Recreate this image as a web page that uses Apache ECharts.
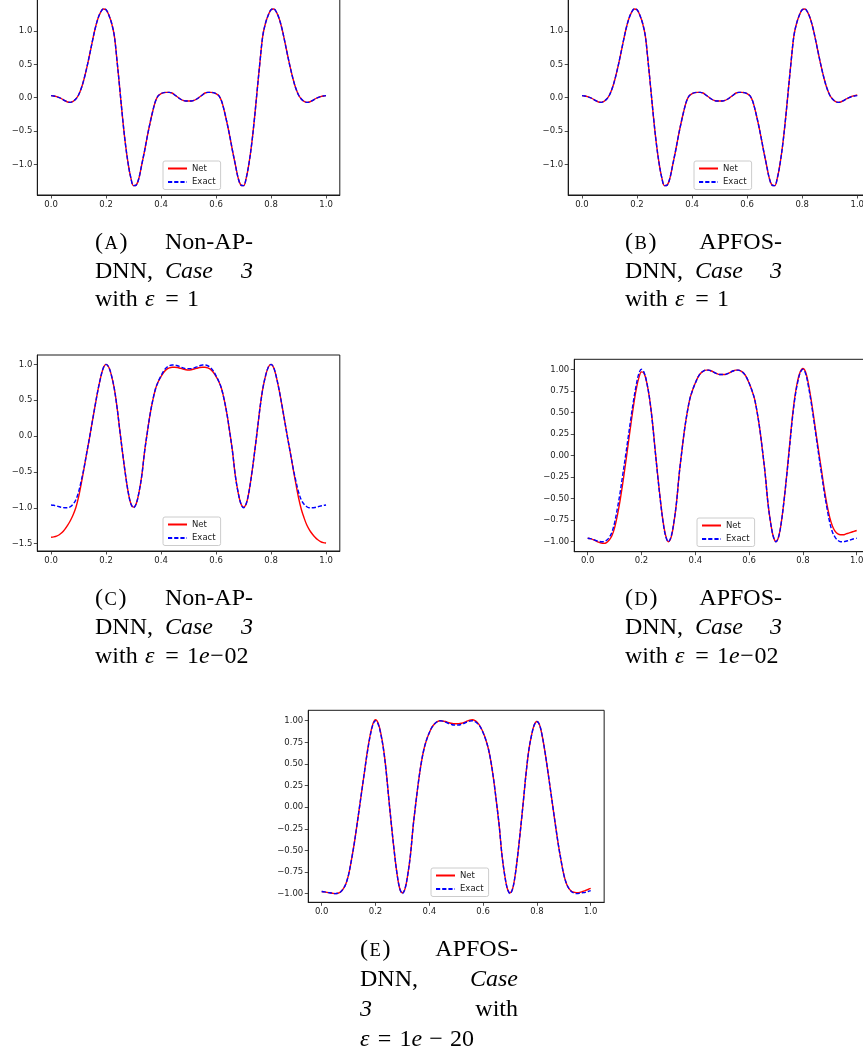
<!DOCTYPE html>
<html><head><meta charset="utf-8">
<script src="https://cdn.jsdelivr.net/npm/echarts@6/dist/echarts.min.js"></script>
<style>html,body{margin:0;padding:0;background:#fff}#c{width:863px;height:1053px}</style>
</head><body><div id="c"></div>
<script>
const xs = [0,0.01,0.02,0.03,0.04,0.05,0.06,0.07,0.08,0.09,
 0.10,0.11,0.12,0.13,0.14,0.15,0.16,0.17,0.18,0.19,
 0.20,0.21,0.22,0.23,0.24,0.25,0.26,0.27,0.28,0.29,
 0.30,0.31,0.32,0.33,0.34,0.35,0.36,0.37,0.38,0.39,
 0.40,0.41,0.42,0.43,0.44,0.45,0.46,0.47,0.48,0.49,
 0.50,
 0.51,0.52,0.53,0.54,0.55,0.56,0.57,0.58,0.59,0.60,
 0.61,0.62,0.63,0.64,0.65,0.66,0.67,0.68,0.69,0.70,
 0.71,0.72,0.73,0.74,0.75,0.76,0.77,0.78,0.79,0.80,
 0.81,0.82,0.83,0.84,0.85,0.86,0.87,0.88,0.89,0.90,
 0.91,0.92,0.93,0.94,0.95,0.96,0.97,0.98,0.99,1.00];

// epsilon = 1 (panels A, B)
const exactEps1 = [0.03,0.025,0.015,0.0,-0.02,-0.045,-0.065,-0.07,-0.055,-0.02,
 0.04,0.14,0.28,0.45,0.64,0.84,1.03,1.18,1.28,1.33,
 1.32,1.24,1.12,0.93,0.55,0.13,-0.30,-0.68,-0.98,-1.20,
 -1.32,-1.31,-1.20,-1.00,-0.80,-0.58,-0.38,-0.20,-0.05,0.03,
 0.06,0.075,0.08,0.08,0.07,0.04,0.01,-0.02,-0.04,-0.05,
 -0.05,
 -0.05,-0.04,-0.02,0.01,0.04,0.07,0.08,0.08,0.075,0.06,
 0.03,-0.05,-0.20,-0.38,-0.58,-0.80,-1.00,-1.20,-1.31,-1.32,
 -1.20,-0.98,-0.68,-0.30,0.13,0.55,0.93,1.12,1.24,1.32,
 1.33,1.28,1.18,1.03,0.84,0.64,0.45,0.28,0.14,0.04,
 -0.02,-0.055,-0.07,-0.065,-0.045,-0.02,0.0,0.015,0.025,0.03];
const netA = [0.03,0.025,0.015,0.0,-0.02,-0.045,-0.065,-0.07,-0.055,-0.02,
 0.04,0.14,0.28,0.45,0.64,0.84,1.03,1.18,1.28,1.33,
 1.32,1.24,1.12,0.93,0.55,0.13,-0.30,-0.68,-0.98,-1.20,
 -1.32,-1.31,-1.20,-1.00,-0.80,-0.58,-0.38,-0.20,-0.05,0.03,
 0.06,0.075,0.08,0.08,0.07,0.04,0.01,-0.02,-0.04,-0.05,
 -0.05,
 -0.05,-0.04,-0.02,0.01,0.04,0.07,0.08,0.08,0.075,0.06,
 0.03,-0.05,-0.20,-0.38,-0.58,-0.80,-1.00,-1.20,-1.31,-1.32,
 -1.20,-0.98,-0.68,-0.30,0.13,0.55,0.93,1.12,1.24,1.32,
 1.33,1.28,1.18,1.03,0.84,0.64,0.45,0.28,0.14,0.04,
 -0.02,-0.055,-0.07,-0.065,-0.045,-0.02,0.0,0.015,0.025,0.03];
const netB = [0.03,0.025,0.015,0.0,-0.02,-0.045,-0.065,-0.07,-0.055,-0.02,
 0.04,0.14,0.28,0.45,0.64,0.84,1.03,1.18,1.28,1.33,
 1.32,1.24,1.12,0.93,0.55,0.13,-0.30,-0.68,-0.98,-1.20,
 -1.32,-1.31,-1.20,-1.00,-0.80,-0.58,-0.38,-0.20,-0.05,0.03,
 0.06,0.075,0.08,0.08,0.07,0.04,0.01,-0.02,-0.04,-0.05,
 -0.05,
 -0.05,-0.04,-0.02,0.01,0.04,0.07,0.08,0.08,0.075,0.06,
 0.03,-0.05,-0.20,-0.38,-0.58,-0.80,-1.00,-1.20,-1.31,-1.32,
 -1.20,-0.98,-0.68,-0.30,0.13,0.55,0.93,1.12,1.24,1.32,
 1.33,1.28,1.18,1.03,0.84,0.64,0.45,0.28,0.14,0.04,
 -0.02,-0.055,-0.07,-0.065,-0.045,-0.02,0.0,0.02,0.03,0.04];

// epsilon = 1e-02 (panels C, D)
const exactEps2 = [-0.96,-0.965,-0.975,-0.985,-0.995,-1.0,-1.0,-0.985,-0.95,-0.89,
 -0.78,-0.62,-0.44,-0.23,-0.02,0.20,0.42,0.63,0.81,0.95,
 1.0,0.96,0.84,0.66,0.40,0.08,-0.23,-0.52,-0.77,-0.94,
 -1.0,-0.94,-0.78,-0.55,-0.22,0.05,0.30,0.50,0.66,0.76,
 0.84,0.91,0.955,0.98,0.99,0.99,0.98,0.965,0.95,0.94,
 0.94,
 0.94,0.95,0.965,0.98,0.99,0.99,0.98,0.955,0.91,0.84,
 0.76,0.66,0.50,0.30,0.05,-0.22,-0.55,-0.78,-0.94,-1.0,
 -0.94,-0.77,-0.52,-0.23,0.08,0.40,0.66,0.84,0.96,1.0,
 0.95,0.81,0.63,0.42,0.20,-0.02,-0.23,-0.44,-0.62,-0.78,
 -0.89,-0.95,-0.985,-1.0,-1.0,-0.995,-0.985,-0.975,-0.965,-0.96];
const netC = [-1.41,-1.405,-1.395,-1.375,-1.345,-1.30,-1.245,-1.18,-1.10,-1.00,
 -0.85,-0.66,-0.45,-0.23,-0.02,0.20,0.42,0.63,0.81,0.95,
 1.0,0.96,0.84,0.66,0.40,0.08,-0.23,-0.52,-0.77,-0.94,
 -0.99,-0.94,-0.78,-0.55,-0.22,0.05,0.30,0.50,0.66,0.76,
 0.83,0.89,0.93,0.95,0.96,0.96,0.955,0.945,0.935,0.925,
 0.92,
 0.925,0.935,0.945,0.955,0.96,0.96,0.95,0.93,0.89,0.83,
 0.76,0.66,0.50,0.30,0.05,-0.22,-0.55,-0.78,-0.94,-0.99,
 -0.94,-0.77,-0.52,-0.23,0.08,0.40,0.66,0.84,0.96,1.0,
 0.95,0.81,0.63,0.42,0.20,-0.02,-0.23,-0.45,-0.66,-0.86,
 -1.02,-1.14,-1.24,-1.31,-1.365,-1.41,-1.445,-1.47,-1.485,-1.49];
const netD = [-0.96,-0.965,-0.975,-0.99,-1.005,-1.015,-1.02,-1.01,-0.98,-0.93,
 -0.84,-0.70,-0.53,-0.33,-0.11,0.12,0.35,0.57,0.76,0.90,
 0.97,0.95,0.84,0.66,0.41,0.09,-0.22,-0.51,-0.76,-0.93,
 -1.0,-0.95,-0.79,-0.55,-0.22,0.05,0.30,0.50,0.66,0.76,
 0.84,0.91,0.955,0.98,0.99,0.99,0.98,0.965,0.95,0.94,
 0.94,
 0.94,0.95,0.965,0.98,0.99,0.99,0.98,0.955,0.91,0.84,
 0.76,0.66,0.50,0.30,0.05,-0.22,-0.55,-0.78,-0.94,-1.0,
 -0.94,-0.77,-0.52,-0.22,0.10,0.42,0.68,0.86,0.97,1.01,
 0.97,0.84,0.66,0.45,0.23,0.02,-0.19,-0.40,-0.58,-0.72,
 -0.82,-0.88,-0.91,-0.92,-0.92,-0.91,-0.90,-0.89,-0.88,-0.87];

// epsilon = 1e-20 (panel E)
const exactEps20 = [-0.975,-0.98,-0.985,-0.99,-0.995,-1.0,-0.995,-0.98,-0.945,-0.885,
 -0.78,-0.62,-0.44,-0.23,-0.01,0.21,0.43,0.64,0.82,0.95,
 1.0,0.96,0.84,0.66,0.40,0.08,-0.23,-0.52,-0.77,-0.94,
 -1.0,-0.94,-0.78,-0.55,-0.22,0.05,0.30,0.51,0.67,0.78,
 0.86,0.925,0.965,0.99,1.0,0.995,0.985,0.97,0.96,0.95,
 0.95,
 0.95,0.96,0.97,0.985,0.995,1.0,0.99,0.965,0.925,0.86,
 0.78,0.67,0.51,0.30,0.05,-0.22,-0.55,-0.78,-0.94,-1.0,
 -0.94,-0.77,-0.52,-0.23,0.08,0.40,0.66,0.83,0.95,0.99,
 0.95,0.82,0.64,0.43,0.21,-0.01,-0.23,-0.44,-0.62,-0.78,
 -0.885,-0.945,-0.98,-0.995,-1.0,-0.995,-0.99,-0.985,-0.975,-0.965];
const netE = [-0.975,-0.98,-0.985,-0.99,-0.995,-1.0,-0.995,-0.98,-0.945,-0.885,
 -0.78,-0.62,-0.44,-0.23,-0.01,0.21,0.43,0.65,0.83,0.96,
 1.01,0.97,0.85,0.67,0.41,0.08,-0.23,-0.52,-0.77,-0.94,
 -0.99,-0.94,-0.78,-0.55,-0.22,0.05,0.30,0.51,0.67,0.78,
 0.86,0.925,0.965,0.99,1.0,0.995,0.99,0.98,0.97,0.965,
 0.965,
 0.965,0.97,0.98,0.995,1.005,1.01,1.0,0.975,0.93,0.865,
 0.78,0.67,0.51,0.30,0.05,-0.22,-0.55,-0.78,-0.94,-0.99,
 -0.94,-0.77,-0.52,-0.23,0.08,0.40,0.66,0.83,0.95,0.99,
 0.95,0.82,0.64,0.43,0.21,-0.01,-0.23,-0.44,-0.62,-0.78,
 -0.885,-0.945,-0.975,-0.985,-0.99,-0.985,-0.975,-0.965,-0.952,-0.94];

const xTicks = [0, 0.2, 0.4, 0.6, 0.8, 1.0];
const yTicksAB = [-1, -0.5, 0, 0.5, 1];
const yTicksC = [-1.5, -1, -0.5, 0, 0.5, 1];
const yTicksDE = [-1, -0.75, -0.5, -0.25, 0, 0.25, 0.5, 0.75, 1];
const seriesNames = ['Net', 'Exact'];

const panels = [
  {grid:{left:37.3, top:-2, width:302.5, height:197}, y:[-1.46, 1.495], yt:yTicksAB, yd:1, net:netA, exact:exactEps1, leg:[163,161]},
  {grid:{left:568.2, top:-2, width:302.8, height:197}, y:[-1.46, 1.495], yt:yTicksAB, yd:1, net:netB, exact:exactEps1, leg:[694,161]},
  {grid:{left:37.3, top:355, width:302.5, height:196}, y:[-1.602, 1.13], yt:yTicksC, yd:1, net:netC, exact:exactEps2, leg:[163,517]},
  {grid:{left:574.25, top:359.3, width:295.9, height:192.4}, y:[-1.116, 1.116], yt:yTicksDE, yd:2, net:netD, exact:exactEps2, leg:[697,518]},
  {grid:{left:308.25, top:710.3, width:295.9, height:192}, y:[-1.10, 1.12], yt:yTicksDE, yd:2, net:netE, exact:exactEps20, leg:[431,868]}
];

function fmt(d){ return function(v){ let s = Number(v).toFixed(d); if (s.charAt(0) === '-') s = '\u2212' + s.slice(1); return s; }; }
const tickColor = '#222';
const labelStyle = {fontFamily:'DejaVu Sans', fontSize:8.5, color:'#222'};

const grids = [], xAxes = [], yAxes = [], series = [], legends = [];
panels.forEach((p, i) => {
  grids.push(Object.assign({show:true, borderColor:'#1a1a1a', borderWidth:1, backgroundColor:'transparent',
    containLabel:false, outerBoundsMode:'none'}, p.grid));
  xAxes.push({type:'value', gridIndex:i, min:-0.05, max:1.05,
    axisLine:{show:true, onZero:false, lineStyle:{color:'#1a1a1a', width:1}},
    axisTick:{show:true, inside:false, length:3.5, lineStyle:{color:tickColor, width:0.8}, customValues:xTicks},
    axisLabel:Object.assign({customValues:xTicks, formatter:fmt(1), margin:5, hideOverlap:false}, labelStyle),
    splitLine:{show:false}});
  yAxes.push({type:'value', gridIndex:i, min:p.y[0], max:p.y[1],
    axisLine:{show:true, onZero:false, lineStyle:{color:'#1a1a1a', width:1}},
    axisTick:{show:true, inside:false, length:3.5, lineStyle:{color:tickColor, width:0.8}, customValues:p.yt},
    axisLabel:Object.assign({customValues:p.yt, formatter:fmt(p.yd), margin:5, hideOverlap:false}, labelStyle),
    splitLine:{show:false}});
  series.push({type:'line', name:seriesNames[0], xAxisIndex:i, yAxisIndex:i, symbol:'none', smooth:0.35,
    data: xs.map((x, k) => [x, p.net[k]]),
    lineStyle:{color:'#ff0000', width:1.4, type:'solid'}, itemStyle:{color:'#ff0000'}, z:2});
  series.push({type:'line', name:seriesNames[1], xAxisIndex:i, yAxisIndex:i, symbol:'none', smooth:0.35,
    data: xs.map((x, k) => [x, p.exact[k]]),
    lineStyle:{color:'#0000ff', width:1.4, type:[4.2, 2]}, itemStyle:{color:'#0000ff'}, z:3});
  legends.push({data:seriesNames, orient:'vertical', left:p.leg[0], top:p.leg[1], selectedMode:false,
    itemWidth:19, itemHeight:10, itemGap:3.5, padding:[2.5,5,2.5,4],
    itemStyle:{opacity:0, borderWidth:0},
    backgroundColor:'rgba(255,255,255,0.85)', borderColor:'#cccccc', borderWidth:1, borderRadius:2,
    textStyle:{fontFamily:'DejaVu Sans', fontSize:8.5, color:'#222', lineHeight:10}});
});

// captions
const serif = 'Liberation Serif';
function t(x, y, text, opt) {
  opt = opt || {};
  const size = opt.size || 24;
  const style = {text:text, x:0, y:0, fill:'#000', fontFamily:serif, fontSize:size,
    fontStyle: opt.italic ? 'italic' : 'normal',
    textAlign: opt.align || 'left', align: opt.align || 'left',
    textVerticalAlign:'middle', verticalAlign:'middle'};
  return {type:'text', x:x, y:y, silent:true, style:style};
}
const capWidths = {A:13.5, B:12.5, C:12.5, D:13.5, E:11.5};
function tag(L, y, letter) {
  return [t(L, y, '('), t(L + 9.5, y + 1.5, letter, {size:18.5}), t(L + 9.5 + capWidths[letter] + 1.5, y, ')')];
}
function withEps1(L, y) {
  return [t(L, y, 'with'), t(L + 50, y, 'ε', {italic:true}), t(L + 77, y, '=', {align:'center'}), t(L + 92, y, '1')];
}
function withEps2(L, y) {
  return [t(L, y, 'with'), t(L + 50, y, 'ε', {italic:true}), t(L + 77, y, '=', {align:'center'}), t(L + 92, y, '1'),
    t(L + 104, y, 'e', {italic:true}), t(L + 122, y, '\u2212', {align:'center'}), t(L + 129.5, y, '02')];
}
function eps20(L, y) {
  return [t(L, y, 'ε', {italic:true}), t(L + 24.5, y, '=', {align:'center'}), t(L + 39.5, y, '1'),
    t(L + 51.5, y, 'e', {italic:true}), t(L + 76, y, '\u2212', {align:'center'}), t(L + 90, y, '20')];
}
const graphics = [];
// (A)
graphics.push(...tag(95, 243, 'A'), t(253, 243, 'Non-AP-', {align:'right'}),
  t(95, 272, 'DNN,'), t(189, 272, 'Case', {italic:true, align:'center'}), t(253, 272, '3', {italic:true, align:'right'}),
  ...withEps1(95, 300));
// (B)
graphics.push(...tag(625, 243, 'B'), t(782, 243, 'APFOS-', {align:'right'}),
  t(625, 272, 'DNN,'), t(719, 272, 'Case', {italic:true, align:'center'}), t(782, 272, '3', {italic:true, align:'right'}),
  ...withEps1(625, 300));
// (C)
graphics.push(...tag(95, 599, 'C'), t(253, 599, 'Non-AP-', {align:'right'}),
  t(95, 628, 'DNN,'), t(189, 628, 'Case', {italic:true, align:'center'}), t(253, 628, '3', {italic:true, align:'right'}),
  ...withEps2(95, 657));
// (D)
graphics.push(...tag(625, 599, 'D'), t(782, 599, 'APFOS-', {align:'right'}),
  t(625, 628, 'DNN,'), t(719, 628, 'Case', {italic:true, align:'center'}), t(782, 628, '3', {italic:true, align:'right'}),
  ...withEps2(625, 657));
// (E)
graphics.push(...tag(360, 950, 'E'), t(518, 950, 'APFOS-', {align:'right'}),
  t(360, 980, 'DNN,'), t(518, 980, 'Case', {italic:true, align:'right'}),
  t(360, 1010, '3', {italic:true}), t(518, 1010, 'with', {align:'right'}),
  ...eps20(360, 1040));

const chart = echarts.init(document.getElementById('c'), null, {renderer:'canvas', width:863, height:1053});
chart.setOption({
  animation:false,
  backgroundColor:'#ffffff',
  grid:grids, xAxis:xAxes, yAxis:yAxes, series:series, legend:legends,
  graphic:{elements:graphics}
});
</script>
</body></html>
